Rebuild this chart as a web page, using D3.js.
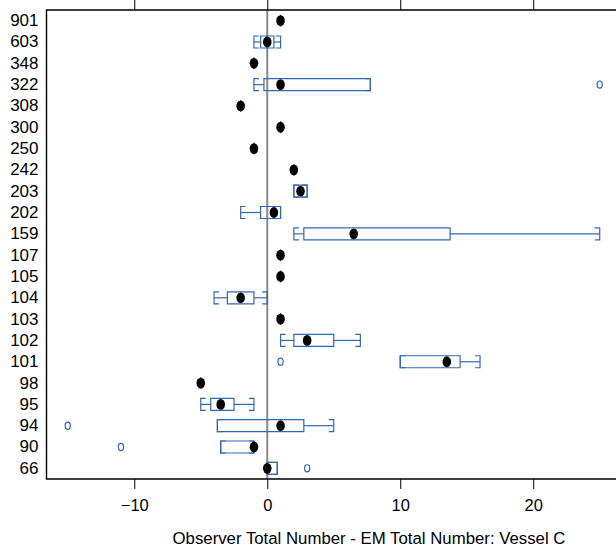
<!DOCTYPE html>
<html>
<head>
<meta charset="utf-8">
<script src="https://cdn.jsdelivr.net/npm/d3@7"></script>
<style>
  html, body { margin: 0; padding: 0; background: #fff; }
  svg { display: block; font-family: "Liberation Sans", Arial, sans-serif; }
</style>
</head>
<body>
<svg id="chart" width="616" height="550"></svg>
<script>
// Vessel identifiers, top to bottom
const categories = ["901","603","348","322","308","300","250","242","203","202","159",
                    "107","105","104","103","102","101","98","95","94","90","66"];
// Five-number summaries per vessel (observer minus EM total number)
const whiskerLow  = [1, -1, -1, -1,   -2, 1, -1, 2, 2,   -2,   2,    1, 1, -4, 1, 1, 10,   -5, -5,    -3.75, -3.5, 0];
const lowerQuart  = [1, -0.5, -1, -0.25, -2, 1, -1, 2, 2, -0.5, 2.75, 1, 1, -3, 1, 2, 10,   -5, -4.25, -3.75, -3.5, 0];
const medians     = [1, 0,  -1, 1,    -2, 1, -1, 2, 2.5, 0.5, 6.5,  1, 1, -2, 1, 3, 13.5, -5, -3.5,  1,     -1,   0];
const upperQuart  = [1, 0.5, -1, 7.75, -2, 1, -1, 2, 3,  1,   13.75, 1, 1, -1, 1, 5, 14.5, -5, -2.5,  2.75,  -1,   0.75];
const whiskerHigh = [1, 1,  -1, 7.75, -2, 1, -1, 2, 3,   1,   25,   1, 1, 0,  1, 7, 16,   -5, -1,    5,     -1,   0.75];
// Outlying observations: [vessel, value]
const outliers = [["322", 25], ["101", 1], ["94", -15], ["90", -11], ["66", 3]];
const xTicks = [-10, 0, 10, 20];
const xTitle = "Observer Total Number - EM Total Number: Vessel C";

const rows = categories.map((c, i) => ({
  cat: c, lo: whiskerLow[i], q1: lowerQuart[i], med: medians[i],
  q3: upperQuart[i], hi: whiskerHigh[i]
}));

const svg = d3.select("#chart");
const padL = 46.5, padR = 621, padT = 10, padB = 479;
const blue = "#3467b3";

const x = d3.scaleLinear().domain([-16.6, 26.6]).range([padL, padR]);
const y = d3.scaleBand().domain(categories).range([padT, padB]).padding(0);
const cy = c => y(c) + y.bandwidth() / 2;
const boxH = 12, stub = 5;

// zero reference line
svg.append("line")
  .attr("x1", x(0)).attr("x2", x(0)).attr("y1", padT).attr("y2", padB)
  .attr("stroke", "#8a8a8a").attr("stroke-width", 2);

const g = svg.append("g").attr("fill", "none").attr("stroke", blue).attr("stroke-width", 1.2);

// whisker lines
rows.forEach(r => {
  const yc = cy(r.cat);
  if (r.lo < r.q1) g.append("line").attr("x1", x(r.lo)).attr("x2", x(r.q1)).attr("y1", yc).attr("y2", yc);
  if (r.hi > r.q3) g.append("line").attr("x1", x(r.q3)).attr("x2", x(r.hi)).attr("y1", yc).attr("y2", yc);
});

// whisker end brackets
function bracket(v, yc, dir) {
  const xv = x(v);
  g.append("path")
    .attr("d", `M${xv + dir * stub},${yc - boxH / 2}H${xv}V${yc + boxH / 2}H${xv + dir * stub}`);
}
rows.forEach(r => {
  if (r.hi > r.lo) {
    const yc = cy(r.cat);
    bracket(r.lo, yc, 1);
    bracket(r.hi, yc, -1);
  }
});

// boxes (as closed paths so a zero-width box still shows as a line)
g.selectAll("path.box").data(rows).join("path")
  .attr("class", "box")
  .attr("d", d => {
    const x0 = x(d.q1), x1 = x(d.q3), y0 = cy(d.cat) - boxH / 2, y1 = y0 + boxH;
    return `M${x0},${y0}H${x1}V${y1}H${x0}Z`;
  });

// outliers
g.selectAll("ellipse.out").data(outliers).join("ellipse")
  .attr("class", "out")
  .attr("cx", d => x(d[1])).attr("cy", d => cy(d[0]))
  .attr("rx", 2.6).attr("ry", 3.6);

// medians
svg.append("g").selectAll("ellipse").data(rows).join("ellipse")
  .attr("cx", d => x(d.med)).attr("cy", d => cy(d.cat))
  .attr("rx", 4.3).attr("ry", 5.4).attr("fill", "#000");

// frame (top, left, bottom)
svg.append("path")
  .attr("d", `M${padR},${padT}H${padL}V${padB}H${padR}`)
  .attr("fill", "none").attr("stroke", "#000").attr("stroke-width", 1.4);

// axes
const axB = svg.append("g").attr("transform", `translate(0,${padB})`)
  .call(d3.axisBottom(x).tickValues(xTicks).tickSize(10).tickPadding(10).tickFormat(d3.format("d")));
axB.select(".domain").remove();
axB.selectAll("text").attr("font-size", 16.5).attr("font-family", "Liberation Sans, Arial, sans-serif").attr("fill", "#000");

const axT = svg.append("g").attr("transform", `translate(0,${padT})`)
  .call(d3.axisTop(x).tickValues(xTicks).tickSize(10).tickFormat(""));
axT.select(".domain").remove();

const axL = svg.append("g").attr("transform", `translate(${padL},0)`)
  .call(d3.axisLeft(y).tickSize(0).tickPadding(8));
axL.select(".domain").remove();
axL.selectAll("text").attr("font-size", 17).attr("font-family", "Liberation Sans, Arial, sans-serif").attr("fill", "#000");

svg.append("text")
  .attr("x", 369).attr("y", 544)
  .attr("text-anchor", "middle").attr("font-size", 16.8)
  .text(xTitle);
</script>
</body>
</html>
